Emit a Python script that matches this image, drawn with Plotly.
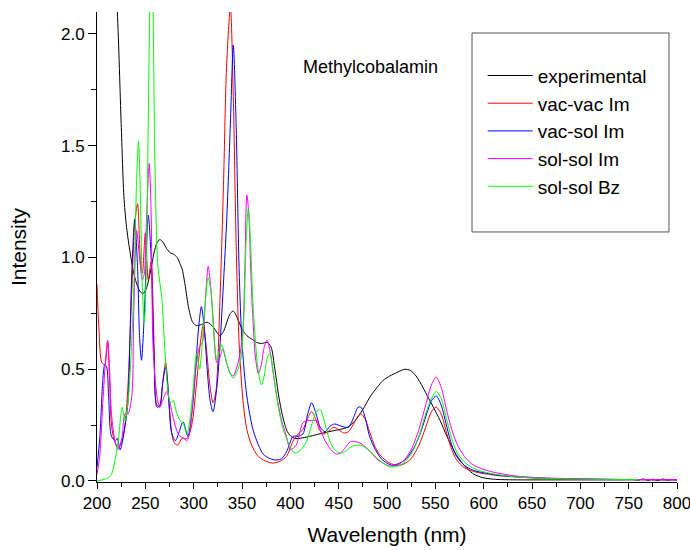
import plotly.graph_objects as go

# ---------------- data ----------------
exp_x = [214, 221, 225, 228, 231, 234, 238, 242, 245, 248, 251, 255, 259, 262, 265, 268, 272, 276, 279, 283,
         286, 288, 291, 295, 299, 303, 308, 314, 320, 324, 327, 331, 335, 338, 341, 345, 350, 355, 360, 365,
         370, 376, 380, 384, 388, 392, 397, 402, 407, 415, 425, 434, 445, 459, 467, 475, 483, 490, 496, 503,
         510, 515, 519, 524, 530, 537, 543, 548, 555, 562, 570, 577, 583, 590, 599, 610, 620, 640, 660, 680,
         700, 720, 740, 755, 760, 765, 770, 775, 780, 785, 790, 795, 800]
exp_y = [2.6, 2.1, 1.6, 1.26, 1.12, 1.03, 0.93, 0.87, 0.845, 0.84, 0.86, 0.93, 1.02, 1.065, 1.08, 1.07, 1.04, 1.02, 1.015, 1.0,
         0.97, 0.95, 0.88, 0.77, 0.71, 0.695, 0.70, 0.71, 0.69, 0.665, 0.65, 0.67, 0.72, 0.75, 0.76, 0.73, 0.68, 0.65, 0.635, 0.62,
         0.615, 0.62, 0.60, 0.50, 0.38, 0.29, 0.22, 0.195, 0.19, 0.195, 0.205, 0.215, 0.225, 0.24, 0.27, 0.32, 0.38, 0.42, 0.45, 0.47,
         0.485, 0.495, 0.50, 0.495, 0.47, 0.42, 0.37, 0.33, 0.27, 0.20, 0.13, 0.085, 0.055, 0.03, 0.015, 0.008, 0.006, 0.005, 0.005, 0.005,
         0.005, 0.005, 0.005, 0.006, 0.004, 0.009, 0.003, 0.008, 0.002, 0.009, 0.004, 0.007, 0.005]

vv_x = [200, 202, 205, 208, 211, 213, 215, 218, 222, 226, 229, 232, 236, 239, 242, 245, 247, 250, 253, 256,
        259, 262, 265, 268, 271, 273, 275, 279, 283, 288, 293, 298, 303, 307, 310, 313, 317, 320, 323, 327,
        331, 334, 338, 341, 344, 347, 351, 355, 360, 366, 372, 382, 390, 396, 403, 408, 413, 418, 422, 426,
        430, 434, 440, 445, 450, 455, 460, 466, 470, 473, 477, 482, 488, 494, 503, 510, 517, 525, 533, 540,
        546, 551, 556, 562, 567, 572, 580, 588, 596, 605, 615, 634, 660, 700, 750, 800]
vv_y = [0.88, 0.68, 0.53, 0.52, 0.62, 0.45, 0.25, 0.18, 0.15, 0.18, 0.25, 0.42, 0.85, 1.15, 1.24, 0.98, 0.93, 1.11, 0.90, 0.98,
        0.62, 0.34, 0.33, 0.44, 0.53, 0.45, 0.32, 0.18, 0.16, 0.19, 0.19, 0.25, 0.44, 0.62, 0.70, 0.60, 0.42, 0.35, 0.40, 0.78,
        1.35, 1.85, 2.12, 1.72, 1.05, 0.62, 0.36, 0.23, 0.16, 0.115, 0.094, 0.08, 0.09, 0.11, 0.18, 0.21, 0.23, 0.28, 0.31, 0.28,
        0.23, 0.21, 0.225, 0.24, 0.23, 0.215, 0.22, 0.26, 0.29, 0.30, 0.28, 0.22, 0.15, 0.11, 0.08, 0.07, 0.075, 0.10, 0.16, 0.24,
        0.31, 0.33, 0.30, 0.21, 0.14, 0.095, 0.06, 0.045, 0.036, 0.03, 0.024, 0.018, 0.012, 0.008, 0.006, 0.005]

vs_x = [200, 203, 206, 208, 210, 212, 215, 219, 221, 224, 228, 232, 234, 236, 239, 242, 244, 246, 249, 253,
        256, 259, 262, 265, 268, 271, 274, 277, 281, 285, 289, 294, 298, 301, 305, 308, 311, 314, 317, 320,
        324, 327, 331, 334, 338, 341, 344, 347, 350, 355, 362, 372, 379, 386, 391, 396, 403, 408, 413, 418,
        422, 426, 431, 436, 441, 446, 453, 460, 466, 470, 473, 477, 482, 488, 494, 500, 506, 513, 520, 528,
        535, 541, 546, 551, 556, 562, 567, 572, 580, 588, 596, 605, 615, 634, 660, 700, 750, 800]
vs_y = [0.06, 0.20, 0.45, 0.52, 0.51, 0.38, 0.20, 0.18, 0.19, 0.14, 0.22, 0.35, 0.63, 0.93, 1.17, 0.95, 0.65, 0.54, 0.75, 1.19,
        1.0, 0.55, 0.33, 0.34, 0.44, 0.51, 0.38, 0.22, 0.18, 0.22, 0.265, 0.20, 0.30, 0.44, 0.68, 0.78, 0.68, 0.50, 0.36, 0.31,
        0.42, 0.59, 0.90, 1.15, 1.60, 1.95, 1.58, 0.95, 0.62, 0.38, 0.22, 0.12, 0.10, 0.094, 0.10, 0.13, 0.20, 0.20, 0.21, 0.30,
        0.35, 0.31, 0.24, 0.22, 0.245, 0.255, 0.245, 0.24, 0.29, 0.33, 0.33, 0.29, 0.20, 0.14, 0.10, 0.08, 0.07, 0.08, 0.10, 0.15,
        0.22, 0.30, 0.36, 0.38, 0.34, 0.24, 0.16, 0.11, 0.07, 0.05, 0.04, 0.033, 0.026, 0.019, 0.013, 0.009, 0.006, 0.005]

ss_x = [200, 203, 206, 209, 211, 213, 215, 219, 222, 226, 229, 232, 236, 238, 241, 244, 247, 249, 251, 254,
        256, 258, 262, 265, 268, 272, 275, 279, 283, 286, 290, 293, 296, 299, 303, 306, 309, 312, 315, 318,
        320, 324, 327, 330, 334, 338, 341, 344, 348, 351, 353, 355, 357, 359, 361, 364, 367, 370, 373, 376,
        379, 383, 386, 391, 396, 400, 406, 413, 418, 422, 427, 431, 436, 442, 448, 452, 457, 462, 468, 472,
        477, 483, 489, 496, 503, 510, 517, 525, 533, 540, 546, 551, 556, 562, 567, 572, 580, 588, 596, 605,
        615, 634, 660, 700, 750, 800]
ss_y = [0.03, 0.12, 0.35, 0.55, 0.63, 0.50, 0.30, 0.17, 0.14, 0.20, 0.30, 0.30, 0.38, 0.75, 1.12, 1.0, 0.90, 0.93, 1.15, 1.42,
        1.20, 0.60, 0.38, 0.33, 0.36, 0.40, 0.36, 0.28, 0.22, 0.20, 0.19, 0.18, 0.22, 0.35, 0.53, 0.60, 0.62, 0.80, 0.96, 0.85,
        0.73, 0.53, 0.55, 0.59, 0.53, 0.48, 0.47, 0.50, 0.57, 0.68, 0.95, 1.28, 1.20, 0.95, 0.75, 0.55, 0.48, 0.52, 0.60, 0.63,
        0.58, 0.46, 0.38, 0.27, 0.20, 0.14, 0.16, 0.26, 0.27, 0.27, 0.27, 0.23, 0.18, 0.14, 0.12, 0.125, 0.15, 0.175, 0.175, 0.17,
        0.155, 0.13, 0.10, 0.08, 0.067, 0.07, 0.09, 0.14, 0.23, 0.34, 0.43, 0.465, 0.42, 0.31, 0.23, 0.17, 0.11, 0.075, 0.058, 0.045,
        0.035, 0.022, 0.014, 0.010, 0.007, 0.006]

bz_x = [200, 205, 211, 215, 218, 222, 226, 229, 232, 236, 239, 241, 243, 245, 247, 249, 251, 253, 255, 256.5,
        258, 260, 263, 267, 270, 273, 276, 279, 282, 286, 289, 293, 296, 299, 303, 306, 309, 312, 315, 318,
        321, 324, 327, 329, 332, 334, 338, 341, 345, 349, 352, 354, 356.5, 359, 361, 363, 366, 370, 373, 376,
        379, 382, 385, 388, 392, 396, 400, 405, 411, 417, 422, 427, 431, 435, 440, 444, 449, 454, 459, 464,
        469, 473, 477, 483, 489, 496, 503, 510, 517, 525, 533, 540, 546, 551, 556, 562, 567, 572, 580, 588,
        596, 605, 615, 634, 660, 700, 730, 760]
bz_y = [0.0, 0.005, 0.013, 0.03, 0.08, 0.18, 0.33, 0.27, 0.35, 0.63, 1.0, 1.35, 1.52, 1.25, 0.85, 0.71, 0.95, 1.6, 2.2, 2.35,
        2.1, 1.4, 0.96, 0.82, 0.60, 0.42, 0.35, 0.36, 0.31, 0.27, 0.26, 0.21, 0.27, 0.39, 0.57, 0.50, 0.62, 0.80, 0.91, 0.84,
        0.65, 0.54, 0.58, 0.61, 0.57, 0.53, 0.48, 0.46, 0.49, 0.55, 0.75, 1.05, 1.22, 1.05, 0.82, 0.68, 0.52, 0.43, 0.47, 0.55,
        0.57, 0.50, 0.40, 0.32, 0.24, 0.19, 0.15, 0.125, 0.14, 0.18, 0.25, 0.31, 0.32, 0.27, 0.19, 0.15, 0.13, 0.125, 0.14, 0.155,
        0.16, 0.16, 0.15, 0.13, 0.105, 0.08, 0.064, 0.065, 0.08, 0.12, 0.20, 0.30, 0.37, 0.40, 0.37, 0.27, 0.19, 0.13, 0.085, 0.06,
        0.046, 0.036, 0.028, 0.018, 0.012, 0.008, 0.007, 0.006]

series = [
    ("experimental", exp_x, exp_y, "#000000"),
    ("vac-vac Im", vv_x, vv_y, "#ff0000"),
    ("vac-sol Im", vs_x, vs_y, "#0000ff"),
    ("sol-sol Im", ss_x, ss_y, "#ff00ff"),
    ("sol-sol Bz", bz_x, bz_y, "#00ff00"),
]

FONT = "Liberation Sans, Arial, sans-serif"

fig = go.Figure()
for name, xs, ys, col in series:
    fig.add_trace(go.Scatter(x=xs, y=ys, name=name, mode="lines",
                             line=dict(color=col, width=1, shape="spline", smoothing=0.8)))

fig.update_layout(
    width=690, height=550,
    margin=dict(l=97, r=13, t=12, b=68, autoexpand=False),
    paper_bgcolor="white", plot_bgcolor="white",
    font=dict(family=FONT, color="black", size=17),
    showlegend=True,
    legend=dict(x=0.665, y=0.905, xanchor="left", yanchor="top",
                bgcolor="rgba(0,0,0,0)", borderwidth=0,
                font=dict(size=19, family=FONT), itemwidth=45, tracegroupgap=0),
    xaxis=dict(range=[200, 800], showgrid=False, zeroline=False, showline=True, automargin=False,
               linecolor="black", linewidth=1, ticks="outside", ticklen=6, tickcolor="black",
               tick0=200, dtick=50, tickfont=dict(size=17), ticklabeloverflow="allow",
               minor=dict(ticks="outside", ticklen=4, dtick=25, tickcolor="black"),
               title=dict(text="Wavelength (nm)", font=dict(size=21), standoff=14)),
    yaxis=dict(range=[-0.0045, 2.098], showgrid=False, zeroline=False, showline=True, automargin=False,
               linecolor="black", linewidth=1, ticks="outside", ticklen=8, tickcolor="black",
               tick0=0, dtick=0.5, tickformat=".1f", tickfont=dict(size=17),
               minor=dict(ticks="outside", ticklen=5, dtick=0.25, tickcolor="black"),
               title=dict(text="Intensity", font=dict(size=21), standoff=28)),
    shapes=[dict(type="rect", xref="paper", yref="paper",
                 x0=0.6466, x1=0.9862, y0=0.532, y1=0.9553,
                 line=dict(color="#555555", width=1), fillcolor="rgba(0,0,0,0)")],
    annotations=[dict(text="Methylcobalamin", xref="paper", yref="paper",
                      x=0.3517, y=0.883, xanchor="left", yanchor="middle",
                      showarrow=False, font=dict(size=18, family=FONT))],
)

fig.write_html("out.html", config={"displayModeBar": False},
               post_script="document.body.style.margin='0';document.body.style.overflow='hidden';")
